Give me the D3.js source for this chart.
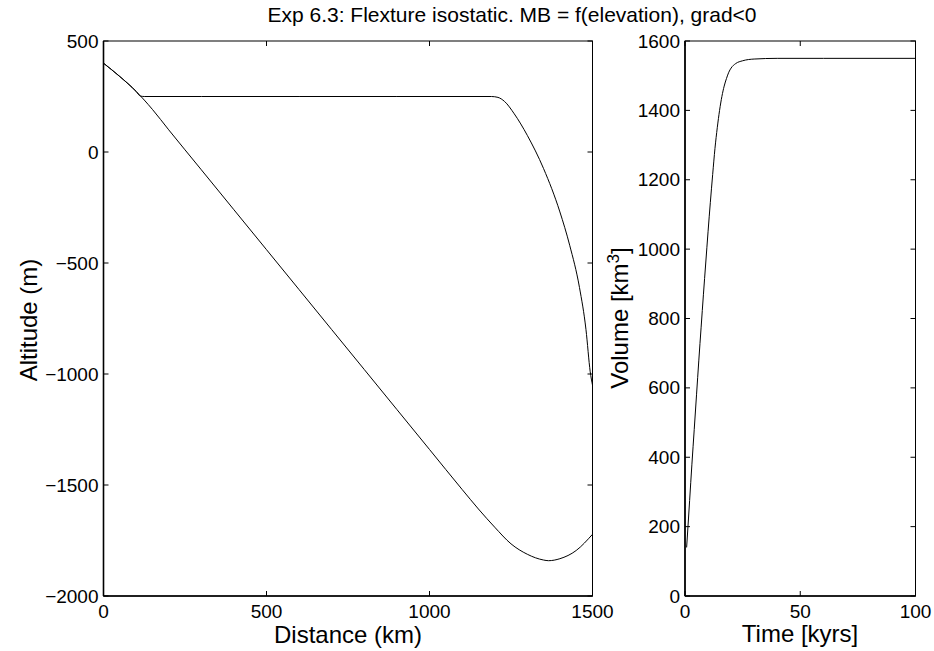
<html>
<head>
    <style>
        body { margin: 0; background: #fff; }
        .line { fill: none; stroke: #000; stroke-width: 1px; }
        text { font-family: "Liberation Sans", Arial, sans-serif; fill: #000; }
    </style>
</head>
<body>
    <svg id="container" width="934" height="651"></svg>
</body>
<script src="https://d3js.org/d3.v7.min.js"></script>
<script>
    // left panel: bed and ice surface along the profile (km, m)
    let bedDist = [0, 50, 100, 150, 200, 300, 400, 500, 600, 700, 800, 900, 1000, 1100, 1150, 1200, 1250, 1300, 1350, 1365, 1400, 1450, 1500]
    let bedAlt  = [400, 340, 273, 192, 100, -80, -260, -440, -620, -800, -980, -1160, -1340, -1520, -1608, -1690, -1765, -1812, -1838, -1841, -1832, -1795, -1722]

    let iceDist = [0, 50, 100, 113, 125, 300, 600, 900, 1190, 1210, 1230, 1260, 1300, 1350, 1400, 1430, 1460, 1480, 1493, 1500]
    let iceAlt  = [400, 340, 273, 252, 250, 250, 250, 250, 250, 246, 228, 172, 75, -75, -270, -420, -610, -800, -990, -1050]

    // right panel: ice volume through time (kyrs, km3)
    let volTime = [0.7, 1, 2, 3, 4, 5, 6, 7, 8, 9, 10, 11, 12, 13, 14, 15, 16, 17, 18, 19, 20, 22, 25, 30, 40, 60, 100]
    let volume  = [140, 170, 275, 380, 480, 580, 680, 775, 870, 960, 1050, 1135, 1215, 1290, 1350, 1400, 1440, 1470, 1492, 1510, 1522, 1535, 1543, 1548, 1550, 1550, 1550]

    let distTicks = [0, 500, 1000, 1500]
    let altTicks = [500, 0, -500, -1000, -1500, -2000]
    let timeTicks = [0, 50, 100]
    let volTicks = [0, 200, 400, 600, 800, 1000, 1200, 1400, 1600]

    let svg = d3.select("#container")
    let fmt = d => d < 0 ? "\u2212" + Math.abs(d) : "" + d

    // draws a MATLAB style boxed axes with inward ticks
    function drawBox(g, x, y, xTicks, yTicks) {
        let [x0, x1] = x.range()
        let [y0, y1] = y.range()
        let t = 5
        g.append("rect")
            .attr("x", x0).attr("y", y1)
            .attr("width", x1 - x0).attr("height", y0 - y1)
            .attr("fill", "none").attr("stroke", "#000").attr("stroke-width", 1)
        g.append("line").attr("x1", x0).attr("x2", x0).attr("y1", y1).attr("y2", y0)
            .attr("stroke", "#000").attr("stroke-width", 1.6)
        g.append("line").attr("x1", x0).attr("x2", x1).attr("y1", y0).attr("y2", y0)
            .attr("stroke", "#000").attr("stroke-width", 1.6)

        xTicks.forEach(v => {
            g.append("line").attr("x1", x(v)).attr("x2", x(v)).attr("y1", y0).attr("y2", y0 - t).attr("stroke", "#000")
            g.append("line").attr("x1", x(v)).attr("x2", x(v)).attr("y1", y1).attr("y2", y1 + t).attr("stroke", "#000")
            g.append("text").attr("x", x(v)).attr("y", y0 + 22)
                .attr("text-anchor", "middle").style("font-size", "19px").text(fmt(v))
        })
        yTicks.forEach(v => {
            g.append("line").attr("x1", x0).attr("x2", x0 + t).attr("y1", y(v)).attr("y2", y(v)).attr("stroke", "#000")
            g.append("line").attr("x1", x1).attr("x2", x1 - t).attr("y1", y(v)).attr("y2", y(v)).attr("stroke", "#000")
            g.append("text").attr("x", x0 - 5).attr("y", y(v))
                .attr("text-anchor", "end").attr("dominant-baseline", "central")
                .style("font-size", "19px").text(fmt(v))
        })
    }

    // left panel
    let xL = d3.scaleLinear().domain([0, 1500]).range([103.5, 592.5])
    let yL = d3.scaleLinear().domain([-2000, 500]).range([596, 41])
    let left = svg.append("g")

    let lineL = d3.line().curve(d3.curveMonotoneX)
        .x(d => xL(d[0]))
        .y(d => yL(d[1]))

    left.append("path")
        .datum(d3.zip(bedDist, bedAlt))
        .attr("class", "line")
        .attr("d", lineL)
    left.append("path")
        .datum(d3.zip(iceDist, iceAlt))
        .attr("class", "line")
        .attr("d", lineL)

    drawBox(left, xL, yL, distTicks, altTicks)

    left.append("text")
        .attr("x", 348).attr("y", 643)
        .attr("text-anchor", "middle").style("font-size", "24px")
        .text("Distance (km)")
    left.append("text")
        .attr("transform", "translate(37,320) rotate(-90)")
        .attr("text-anchor", "middle").style("font-size", "24px")
        .text("Altitude (m)")

    // right panel
    let xR = d3.scaleLinear().domain([0, 100]).range([685, 915.5])
    let yR = d3.scaleLinear().domain([0, 1600]).range([596, 41])
    let right = svg.append("g")

    let lineR = d3.line().curve(d3.curveMonotoneX)
        .x(d => xR(d[0]))
        .y(d => yR(d[1]))

    right.append("path")
        .datum(d3.zip(volTime, volume))
        .attr("class", "line")
        .attr("d", lineR)

    drawBox(right, xR, yR, timeTicks, volTicks)

    right.append("text")
        .attr("x", 800).attr("y", 642)
        .attr("text-anchor", "middle").style("font-size", "24px")
        .text("Time [kyrs]")
    let vl = right.append("text")
        .attr("transform", "translate(628,318) rotate(-90)")
        .attr("text-anchor", "middle").style("font-size", "24px")
    vl.append("tspan").text("Volume [km")
    vl.append("tspan").attr("dy", -9).style("font-size", "17px").text("3")
    vl.append("tspan").attr("dy", 9).text("]")

    // title
    svg.append("text")
        .attr("x", 512).attr("y", 22)
        .attr("text-anchor", "middle").style("font-size", "21px")
        .text("Exp 6.3: Flexture isostatic. MB = f(elevation), grad<0")
</script>
</html>
